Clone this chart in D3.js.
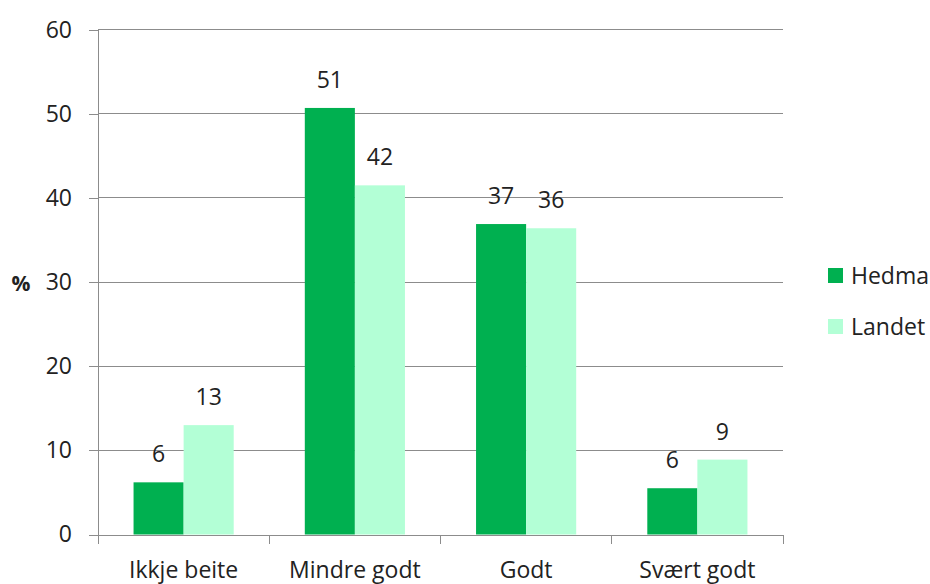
<!DOCTYPE html>
<html><head><meta charset="utf-8">
<script src="https://cdn.jsdelivr.net/npm/d3@7"></script>
<style>body{margin:0;background:#fff;overflow:hidden;} text{font-family:"Open Sans",sans-serif;fill:#222;}</style>
</head><body>
<svg id="c" width="930" height="584"></svg>
<script>
const categories = ["Ikkje beite","Mindre godt","Godt","Svært godt"];
const seriesNames = ["Hedmark","Landet"];
const hedmark = [6.2, 50.7, 36.9, 5.5];
const landet = [13.0, 41.5, 36.4, 8.9];
const hedmarkLabels = ["6","51","37","6"];
const landetLabels = ["13","42","36","9"];
const yTicks = [0,10,20,30,40,50,60];
const colors = ["#00b050","#b3ffd6"];
const FS = "23px";

const svg = d3.select("#c");
const m = {left:98, right:783, top:29.7, bottom:534.5};
const x = d3.scaleBand().domain(categories).range([m.left, m.right]).paddingInner(0).paddingOuter(0);
const x1 = d3.scaleBand().domain(seriesNames).range([0, x.bandwidth()]).paddingInner(0).paddingOuter(0.71);
const y = d3.scaleLinear().domain([0,60]).range([m.bottom, m.top]);

// gridlines
svg.append("g").selectAll("line").data(yTicks.filter(d=>d>0)).join("line")
  .attr("x1", m.left).attr("x2", m.right).attr("y1", d=>y(d)).attr("y2", d=>y(d))
  .attr("stroke","#8c8c8c").attr("stroke-width",1).attr("shape-rendering","crispEdges");

// y axis
const ya = svg.append("g").attr("transform",`translate(${m.left},0)`)
  .call(d3.axisLeft(y).tickValues(yTicks).tickSize(9).tickPadding(17));
ya.select(".domain").attr("stroke","#8c8c8c").attr("shape-rendering","crispEdges");
ya.selectAll(".tick line").attr("stroke","#8c8c8c").attr("shape-rendering","crispEdges");
ya.selectAll("text").style("font-size",FS).style("font-family","Open Sans").attr("fill","#222");

const data = categories.map((c,i)=>({c, vals:[
  {s:seriesNames[0], v:hedmark[i], l:hedmarkLabels[i]},
  {s:seriesNames[1], v:landet[i], l:landetLabels[i]}]}));

const g = svg.append("g").selectAll("g").data(data).join("g")
  .attr("transform", d=>`translate(${x(d.c)},0)`);
g.selectAll("rect").data(d=>d.vals).join("rect")
  .attr("x", d=>x1(d.s)).attr("width", x1.bandwidth())
  .attr("y", d=>y(d.v)).attr("height", d=>y(0)-y(d.v))
  .attr("fill", (d,i)=>colors[i]);
g.selectAll("text").data(d=>d.vals).join("text")
  .attr("x", d=>x1(d.s)+x1.bandwidth()/2).attr("y", d=>y(d.v)-20)
  .attr("text-anchor","middle").style("font-size",FS).text(d=>d.l);

// x axis
const xa = svg.append("g").attr("transform",`translate(0,${m.bottom})`)
  .call(d3.axisBottom(x).tickSize(0).tickPadding(27));
xa.select(".domain").attr("stroke","#8c8c8c").attr("shape-rendering","crispEdges");
xa.selectAll("text").style("font-size",FS).style("font-family","Open Sans").attr("fill","#222");
svg.append("g").selectAll("line").data(d3.range(categories.length+1)).join("line")
  .attr("x1", i=>m.left + i*x.bandwidth()).attr("x2", i=>m.left + i*x.bandwidth())
  .attr("y1", m.bottom).attr("y2", m.bottom+9)
  .attr("stroke","#8c8c8c").attr("shape-rendering","crispEdges");

// % label
svg.append("text").attr("x",21).attr("y",291).attr("text-anchor","middle")
  .style("font-size","21px").style("font-weight","bold").text("%");

// legend
const lg = svg.append("g").selectAll("g").data(seriesNames).join("g")
  .attr("transform",(d,i)=>`translate(828,${268+i*51})`);
lg.append("rect").attr("width",15).attr("height",15).attr("fill",(d,i)=>colors[i]);
lg.append("text").attr("x",23).attr("y",16).style("font-size",FS).text(d=>d);
</script>
</body></html>
